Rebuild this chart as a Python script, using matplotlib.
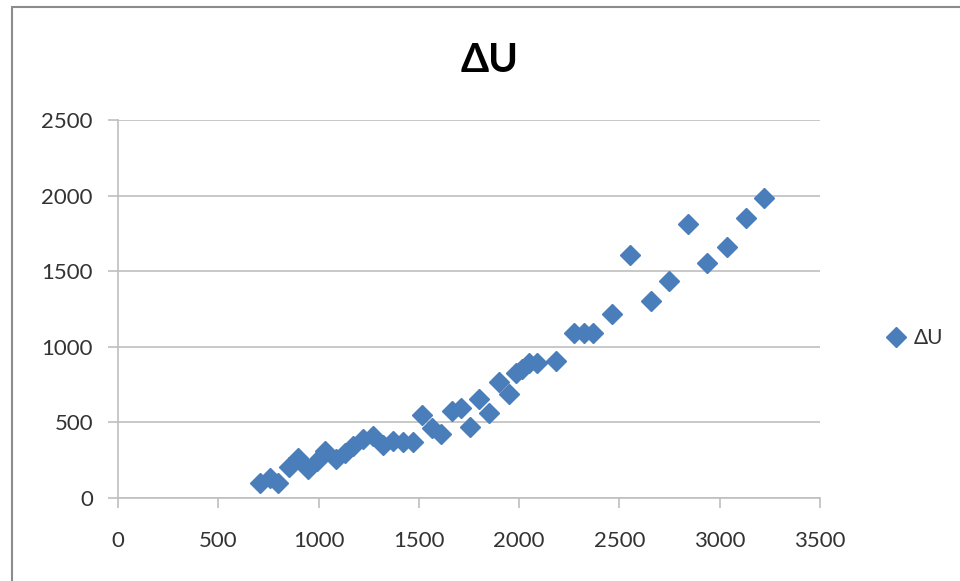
import matplotlib.pyplot as plt
from matplotlib.patches import Rectangle

# values
x_vals = [710, 760, 800, 855, 895, 945, 990, 1030, 1085, 1130, 1170, 1220,
          1270, 1320, 1370, 1420, 1470, 1515, 1565, 1610, 1665, 1710, 1755,
          1800, 1850, 1900, 1950, 1985, 2015, 2050, 2090, 2185, 2275, 2325,
          2370, 2465, 2555, 2655, 2745, 2840, 2935, 3035, 3130, 3220]
du_vals = [100, 130, 100, 205, 265, 195, 245, 310, 260, 295, 345, 390,
           410, 350, 380, 370, 370, 550, 465, 425, 575, 595, 470,
           655, 560, 765, 690, 825, 855, 890, 890, 905, 1090, 1090,
           1090, 1215, 1605, 1305, 1435, 1815, 1555, 1660, 1855, 1985]
x_ticks = [0, 500, 1000, 1500, 2000, 2500, 3000, 3500]
y_ticks = [0, 500, 1000, 1500, 2000, 2500]

plt.rcParams['font.family'] = ['Lato', 'DejaVu Sans']
blue = '#4A7EBB'
grid_col = '#BFBFBF'
txt_col = '#333333'

fig = plt.figure(figsize=(9.6, 5.81), dpi=100)
# outer chart frame (runs off the right and bottom edges)
fig.patches.append(Rectangle((12/960, -0.05), 1.1, 1 - 7/581 + 0.05, transform=fig.transFigure,
                             fill=False, edgecolor='#8C8C8C', linewidth=1.5))

ax = fig.add_axes([118/960, 83/581, 702/960, 378/581])
ax.plot(x_vals, du_vals, linestyle='none', marker='D', markersize=10.5,
        color=blue, label='ΔU')

ax.set_xlim(0, 3500)
ax.set_ylim(0, 2500)
ax.set_xticks(x_ticks)
ax.set_yticks(y_ticks)
ax.yaxis.grid(True, color=grid_col, linewidth=1.2)
ax.set_axisbelow(True)
for s in ['top', 'right']:
    ax.spines[s].set_visible(False)
for s in ['left', 'bottom']:
    ax.spines[s].set_color(grid_col)
    ax.spines[s].set_linewidth(1.2)
ax.tick_params(axis='both', colors=grid_col, length=7, width=1.2,
               labelsize=16, labelcolor=txt_col)
ax.tick_params(axis='x', pad=17)
ax.tick_params(axis='y', pad=11)

fig.text(490/960, 1 - 60/581, 'ΔU', ha='center', va='center',
         fontsize=29, fontweight='bold', color='black')

fig.legend(loc='center left', bbox_to_anchor=(877/960, 1 - 338/581), frameon=False,
           fontsize=15, handlelength=0.8, handletextpad=0.45, borderpad=0,
           labelcolor=txt_col)

fig.savefig('out.png', dpi=100)
